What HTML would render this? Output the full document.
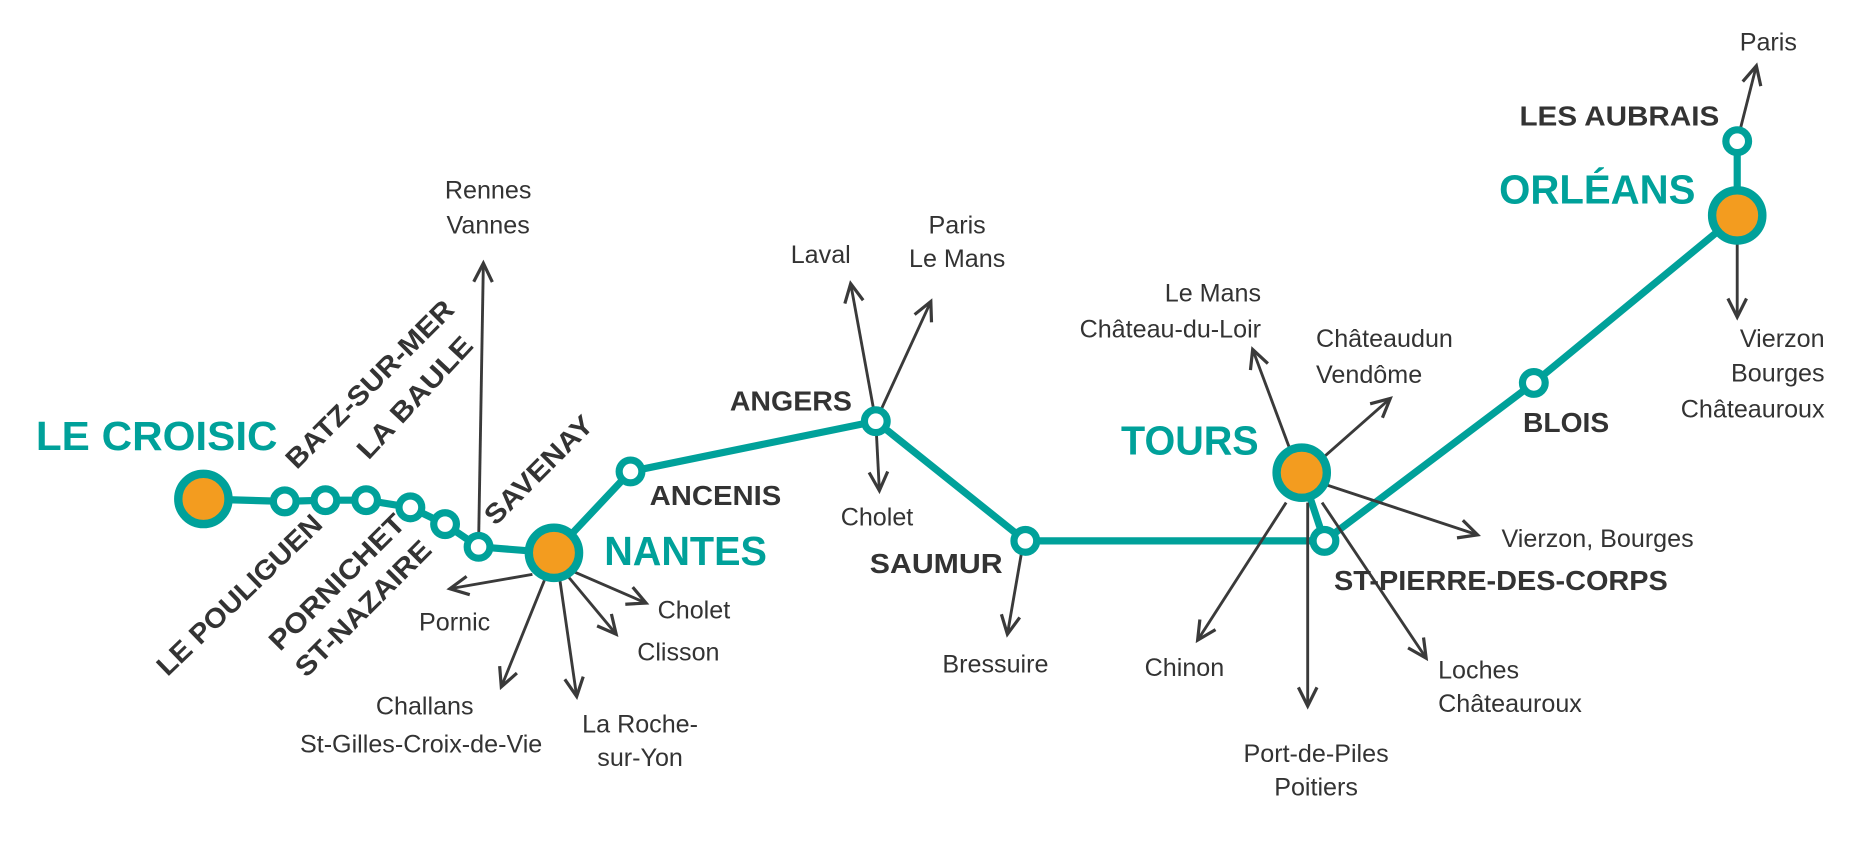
<!DOCTYPE html>
<html><head><meta charset="utf-8"><style>
html,body{margin:0;padding:0;background:#fff;}
svg{display:block}
.t{font-family:"Liberation Sans Narrow","Liberation Sans",sans-serif;fill:#333;font-size:21px}
.b{font-family:"Liberation Sans Narrow","Liberation Sans",sans-serif;fill:#333;font-size:23px;font-weight:bold}
.c{font-family:"Liberation Sans Narrow","Liberation Sans",sans-serif;fill:#00a19a;font-size:34px;font-weight:bold}
.a{stroke:#3a3a3a;stroke-width:2.4;fill:none;marker-end:url(#m)}
</style></head><body>
<svg width="1876" height="846" viewBox="0 0 1568 707" preserveAspectRatio="none" xmlns="http://www.w3.org/2000/svg">
<defs><marker id="m" markerWidth="20" markerHeight="20" refX="15" refY="9" orient="auto" markerUnits="userSpaceOnUse" viewBox="0 0 18 18"><path d="M1,2 L15,9 L1,16" fill="none" stroke="#3a3a3a" stroke-width="2.4"/></marker></defs>
<g stroke="#00a19a" stroke-width="6" fill="none" stroke-linejoin="round">
<polyline points="170,417 238,419 272,418 306,418 343,424 372,438 400,457 463,462"/>
<polyline points="463,462 527,394 732,352 857,452 1107,452 1088,395"/>
<polyline points="1107,452 1282,320 1452,180 1452,118"/>
</g>
<line class="a" x1="400" y1="455" x2="404" y2="220"/>
<line class="a" x1="732" y1="352" x2="711" y2="237"/>
<line class="a" x1="732" y1="352" x2="778" y2="252"/>
<line class="a" x1="732" y1="352" x2="735" y2="410"/>
<line class="a" x1="445" y1="480" x2="376" y2="492"/>
<line class="a" x1="455" y1="485" x2="419" y2="574"/>
<line class="a" x1="468" y1="485" x2="482" y2="582"/>
<line class="a" x1="475" y1="482" x2="515" y2="530"/>
<line class="a" x1="480" y1="478" x2="540" y2="504"/>
<line class="a" x1="855" y1="455" x2="842" y2="530"/>
<line class="a" x1="1078" y1="375" x2="1047" y2="292"/>
<line class="a" x1="1103" y1="385" x2="1162" y2="333"/>
<line class="a" x1="1108" y1="405" x2="1235" y2="447"/>
<line class="a" x1="1075" y1="420" x2="1001" y2="535"/>
<line class="a" x1="1093" y1="420" x2="1093" y2="590"/>
<line class="a" x1="1105" y1="420" x2="1192" y2="550"/>
<line class="a" x1="1452" y1="118" x2="1468" y2="55"/>
<line class="a" x1="1452" y1="200" x2="1452" y2="265"/>
<g stroke="#00a19a" stroke-width="6" fill="#fff">
<circle cx="238" cy="419" r="9.5"/><circle cx="272" cy="418" r="9.5"/><circle cx="306" cy="418" r="9.5"/>
<circle cx="343" cy="424" r="9.5"/><circle cx="372" cy="438" r="9.5"/><circle cx="400" cy="457" r="9.5"/>
<circle cx="527" cy="394" r="9.5"/><circle cx="732" cy="352" r="9.5"/><circle cx="857" cy="452" r="9.5"/>
<circle cx="1107" cy="452" r="9.5"/><circle cx="1282" cy="320" r="9.5"/><circle cx="1452" cy="118" r="9.5"/>
</g>
<g stroke="#00a19a" stroke-width="7" fill="#f39c1f">
<circle cx="170" cy="417" r="21"/><circle cx="463" cy="462" r="21"/>
<circle cx="1088" cy="395" r="21"/><circle cx="1452" cy="180" r="21"/>
</g>
<text class="c" x="30" y="376" textLength="202" lengthAdjust="spacingAndGlyphs">LE CROISIC</text>
<text class="c" x="505" y="472" textLength="136" lengthAdjust="spacingAndGlyphs">NANTES</text>
<text class="c" x="937" y="380" textLength="115" lengthAdjust="spacingAndGlyphs">TOURS</text>
<text class="c" x="1253" y="170" textLength="164" lengthAdjust="spacingAndGlyphs">ORLÉANS</text>
<text class="b" x="610" y="343" textLength="102" lengthAdjust="spacingAndGlyphs">ANGERS</text>
<text class="b" x="543" y="422" textLength="110" lengthAdjust="spacingAndGlyphs">ANCENIS</text>
<text class="b" x="727" y="479" textLength="111" lengthAdjust="spacingAndGlyphs">SAUMUR</text>
<text class="b" x="1273" y="361" textLength="72" lengthAdjust="spacingAndGlyphs">BLOIS</text>
<text class="b" x="1115" y="493" textLength="279" lengthAdjust="spacingAndGlyphs">ST-PIERRE-DES-CORPS</text>
<text class="b" x="1270" y="105" textLength="167" lengthAdjust="spacingAndGlyphs">LES AUBRAIS</text>
<text class="b" transform="translate(248,393) rotate(-45)" textLength="188" lengthAdjust="spacingAndGlyphs">BATZ-SUR-MER</text>
<text class="b" transform="translate(308,385) rotate(-47)" textLength="130" lengthAdjust="spacingAndGlyphs">LA BAULE</text>
<text class="b" transform="translate(414,440) rotate(-45)" textLength="118" lengthAdjust="spacingAndGlyphs">SAVENAY</text>
<text class="b" transform="translate(140,566) rotate(-44)" textLength="182" lengthAdjust="spacingAndGlyphs">LE POULIGUEN</text>
<text class="b" transform="translate(234,545) rotate(-45)" textLength="150" lengthAdjust="spacingAndGlyphs">PORNICHET</text>
<text class="b" transform="translate(256,567) rotate(-45)" textLength="150" lengthAdjust="spacingAndGlyphs">ST-NAZAIRE</text>
<g class="t" text-anchor="middle">
<text x="408" y="166">Rennes</text><text x="408" y="195">Vannes</text>
<text x="686" y="220">Laval</text>
<text x="800" y="195">Paris</text><text x="800" y="223">Le Mans</text>
<text x="733" y="439">Cholet</text>
<text x="380" y="527">Pornic</text>
<text x="580" y="517">Cholet</text>
<text x="567" y="552">Clisson</text>
<text x="355" y="597">Challans</text><text x="352" y="629">St-Gilles-Croix-de-Vie</text>
<text x="535" y="612">La Roche-</text><text x="535" y="640">sur-Yon</text>
<text x="832" y="562">Bressuire</text>
<text x="990" y="565">Chinon</text>
<text x="1100" y="637">Port-de-Piles</text><text x="1100" y="665">Poitiers</text>
<text x="1478" y="42">Paris</text>
</g>
<g class="t" text-anchor="end">
<text x="1054" y="252">Le Mans</text><text x="1054" y="282">Château-du-Loir</text>
<text x="1525" y="290">Vierzon</text><text x="1525" y="319">Bourges</text><text x="1525" y="349">Châteauroux</text>
</g>
<g class="t">
<text x="1100" y="290">Châteaudun</text><text x="1100" y="320">Vendôme</text>
<text x="1255" y="457">Vierzon, Bourges</text>
<text x="1202" y="567">Loches</text><text x="1202" y="595">Châteauroux</text>
</g>
</svg>
</body></html>
